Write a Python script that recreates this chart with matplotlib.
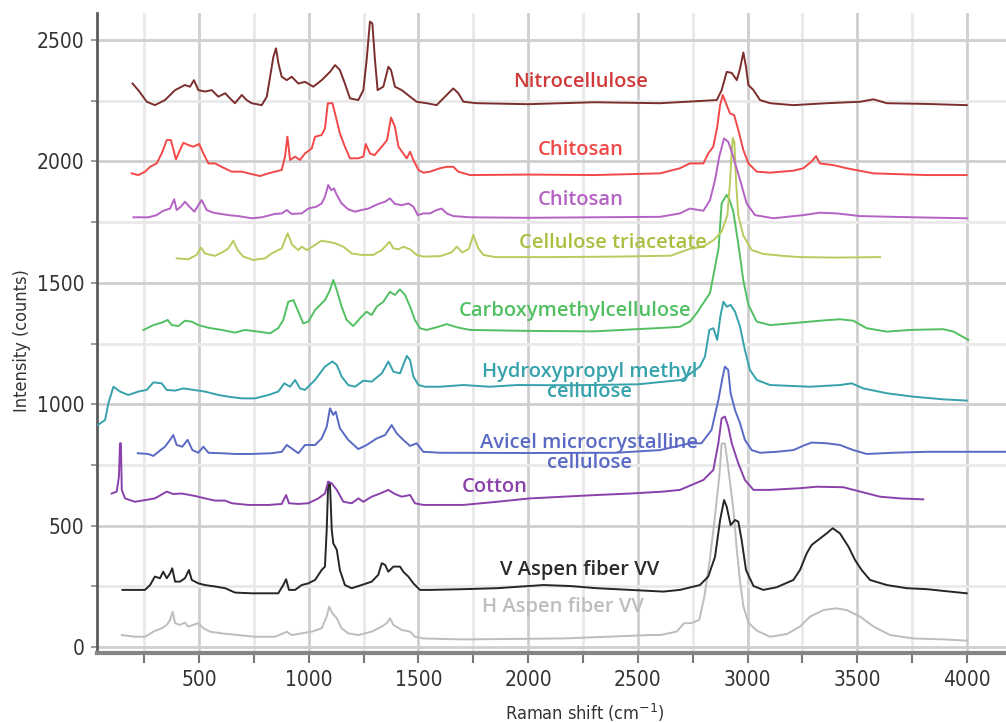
import numpy as np
import matplotlib
matplotlib.use("Agg")
import matplotlib.pyplot as plt
from matplotlib.ticker import MultipleLocator

# -----------------------
# Data (Raman shift cm-1, intensity counts)
# -----------------------
nitro = [(197, 2321), (223, 2294), (262, 2246), (299, 2232), (345, 2253), (391, 2294), (436, 2315),
         (459, 2308), (477, 2335), (497, 2294), (527, 2288), (558, 2294), (588, 2267), (619, 2281),
         (649, 2253), (664, 2240), (695, 2274), (717, 2253), (740, 2240), (786, 2232), (809, 2267),
         (824, 2349), (839, 2431), (851, 2466), (862, 2404), (877, 2349), (900, 2335), (922, 2349),
         (953, 2321), (983, 2328), (1021, 2308), (1059, 2335), (1097, 2369), (1120, 2397), (1142, 2377),
         (1165, 2321), (1188, 2260), (1226, 2253), (1249, 2294), (1264, 2418), (1279, 2576), (1290, 2569),
         (1302, 2418), (1314, 2294), (1340, 2308), (1363, 2390), (1375, 2377), (1393, 2308), (1424, 2294),
         (1462, 2267), (1492, 2246), (1538, 2240), (1583, 2232), (1621, 2267), (1659, 2301), (1682, 2281),
         (1705, 2246), (1766, 2240), (2000, 2236), (2300, 2244), (2601, 2240), (2860, 2253), (2882, 2294),
         (2905, 2369), (2928, 2365), (2951, 2335), (2966, 2383), (2981, 2449), (2993, 2390), (3004, 2315),
         (3027, 2294), (3057, 2253), (3103, 2240), (3208, 2232), (3361, 2240), (3513, 2246), (3574, 2256),
         (3635, 2240), (3817, 2237), (3999, 2232)]

chitosan_red = [(193, 1951), (223, 1944), (254, 1958), (277, 1978), (307, 1992), (330, 2033), (353, 2088),
                (372, 2088), (395, 2008), (413, 2047), (429, 2077), (451, 2068), (474, 2061), (501, 2072),
                (520, 2033), (543, 1992), (573, 1992), (603, 1978), (649, 1958), (695, 1958), (740, 1948),
                (778, 1940), (816, 1951), (877, 1965), (892, 2020), (903, 2102), (915, 2006), (938, 2020),
                (960, 2006), (983, 2033), (1014, 2054), (1029, 2102), (1059, 2109), (1074, 2136), (1087, 2240),
                (1108, 2240), (1120, 2198), (1142, 2116), (1165, 2061), (1188, 2013), (1226, 2013), (1249, 2020),
                (1260, 2072), (1279, 2033), (1300, 2026), (1333, 2061), (1357, 2088), (1375, 2181), (1393, 2143),
                (1409, 2061), (1431, 2033), (1447, 2013), (1462, 2040), (1477, 2006), (1500, 1965), (1522, 1954),
                (1553, 1958), (1598, 1972), (1629, 1978), (1659, 1978), (1682, 1958), (1735, 1944), (2000, 1946),
                (2300, 1944), (2601, 1951), (2692, 1972), (2737, 1992), (2799, 1992), (2821, 2033), (2844, 2061),
                (2862, 2143), (2875, 2232), (2887, 2274), (2905, 2232), (2920, 2198), (2939, 2191), (2958, 2129),
                (2981, 2047), (3004, 1992), (3042, 1958), (3103, 1954), (3209, 1962), (3254, 1972), (3292, 2000),
                (3312, 2022), (3330, 1992), (3391, 1985), (3452, 1972), (3574, 1951), (3817, 1944), (3999, 1944)]

chitosan_violet = [(201, 1770), (269, 1770), (307, 1779), (337, 1797), (368, 1806), (387, 1844), (398, 1800),
                   (418, 1814), (436, 1834), (456, 1814), (479, 1793), (497, 1820), (512, 1841), (535, 1800),
                   (565, 1789), (634, 1779), (679, 1775), (740, 1766), (786, 1770), (846, 1784), (877, 1786),
                   (900, 1800), (922, 1784), (968, 1786), (998, 1806), (1036, 1814), (1059, 1827), (1074, 1855),
                   (1089, 1903), (1102, 1882), (1115, 1889), (1128, 1862), (1150, 1827), (1180, 1803), (1211, 1793),
                   (1241, 1800), (1272, 1806), (1317, 1825), (1348, 1834), (1370, 1848), (1393, 1825), (1424, 1820),
                   (1454, 1827), (1477, 1814), (1497, 1779), (1522, 1786), (1553, 1786), (1583, 1800), (1606, 1806),
                   (1629, 1786), (1659, 1775), (1735, 1770), (2000, 1768), (2300, 1770), (2601, 1772), (2692, 1786),
                   (2737, 1806), (2799, 1797), (2829, 1841), (2852, 1924), (2871, 2020), (2893, 2095), (2912, 2081),
                   (2928, 2040), (2948, 1978), (2966, 1924), (2996, 1827), (3034, 1779), (3118, 1766), (3254, 1779),
                   (3330, 1789), (3407, 1786), (3513, 1775), (3756, 1770), (3999, 1766)]

triacetate = [(398, 1601), (451, 1597), (489, 1615), (509, 1646), (527, 1621), (573, 1611), (611, 1628),
              (634, 1642), (656, 1673), (676, 1635), (702, 1608), (748, 1594), (801, 1601), (831, 1621),
              (877, 1642), (904, 1704), (925, 1656), (953, 1635), (968, 1649), (991, 1635), (1029, 1656),
              (1056, 1673), (1089, 1669), (1120, 1663), (1158, 1649), (1196, 1621), (1241, 1615), (1294, 1615),
              (1333, 1635), (1368, 1669), (1386, 1642), (1409, 1638), (1431, 1649), (1462, 1638), (1492, 1615),
              (1522, 1608), (1600, 1610), (1650, 1625), (1675, 1649), (1700, 1625), (1730, 1640), (1750, 1697),
              (1773, 1642), (1796, 1615), (1850, 1606), (2100, 1606), (2400, 1608), (2650, 1612), (2737, 1640),
              (2799, 1650), (2844, 1675), (2882, 1711), (2908, 1778), (2920, 1912), (2928, 2046), (2933, 2097),
              (2940, 2080), (2948, 1912), (2958, 1778), (2981, 1694), (3019, 1635), (3072, 1619), (3163, 1611),
              (3239, 1606), (3400, 1604), (3604, 1606)]

cmc = [(247, 1306), (292, 1326), (330, 1336), (357, 1347), (376, 1326), (406, 1322), (436, 1344), (467, 1340),
       (497, 1326), (543, 1315), (603, 1306), (664, 1295), (710, 1306), (770, 1299), (824, 1292), (861, 1313),
       (884, 1347), (907, 1422), (930, 1429), (953, 1381), (975, 1333), (998, 1340), (1029, 1388), (1074, 1429),
       (1097, 1470), (1112, 1512), (1128, 1470), (1150, 1402), (1173, 1347), (1203, 1322), (1241, 1361),
       (1264, 1381), (1287, 1367), (1310, 1402), (1340, 1422), (1370, 1463), (1393, 1450), (1416, 1473),
       (1439, 1450), (1462, 1402), (1484, 1347), (1507, 1313), (1538, 1306), (1583, 1317), (1629, 1330),
       (1675, 1317), (1735, 1306), (2000, 1302), (2300, 1300), (2601, 1314), (2692, 1319), (2737, 1340),
       (2769, 1376), (2829, 1458), (2852, 1566), (2868, 1643), (2882, 1828), (2905, 1862), (2917, 1845),
       (2935, 1794), (2958, 1660), (2981, 1509), (3004, 1409), (3042, 1340), (3103, 1326), (3209, 1334),
       (3330, 1344), (3421, 1350), (3482, 1344), (3543, 1313), (3635, 1299), (3741, 1306), (3893, 1309),
       (3939, 1299), (4006, 1265)]

hpmc = [(40, 915), (72, 935), (87, 1004), (110, 1072), (140, 1052), (178, 1038), (223, 1052), (262, 1059),
        (292, 1090), (330, 1086), (353, 1059), (391, 1056), (429, 1065), (474, 1059), (527, 1052), (588, 1038),
        (634, 1031), (695, 1024), (755, 1024), (816, 1038), (861, 1052), (889, 1086), (915, 1072), (938, 1100),
        (960, 1065), (983, 1059), (1029, 1100), (1074, 1155), (1108, 1176), (1128, 1162), (1150, 1114),
        (1180, 1079), (1211, 1072), (1249, 1097), (1287, 1093), (1333, 1127), (1363, 1176), (1386, 1134),
        (1416, 1127), (1447, 1199), (1462, 1182), (1477, 1114), (1500, 1079), (1530, 1072), (1598, 1072),
        (1705, 1079), (1826, 1072), (1948, 1079), (2200, 1078), (2500, 1082), (2700, 1100), (2783, 1155),
        (2806, 1196), (2826, 1306), (2844, 1313), (2862, 1265), (2876, 1361), (2890, 1422), (2905, 1402),
        (2923, 1409), (2943, 1381), (2966, 1319), (2988, 1223), (3011, 1141), (3042, 1100), (3103, 1079),
        (3285, 1072), (3421, 1079), (3475, 1086), (3528, 1065), (3635, 1045), (3756, 1031), (3893, 1020),
        (3999, 1015)]

avicel = [(221, 798), (269, 795), (292, 787), (315, 804), (345, 825), (368, 853), (383, 873), (398, 832),
          (424, 825), (448, 853), (470, 811), (497, 800), (520, 825), (543, 800), (603, 798), (664, 795),
          (740, 795), (831, 798), (877, 804), (900, 832), (922, 818), (953, 798), (983, 832), (1029, 832),
          (1059, 859), (1082, 907), (1097, 983), (1112, 956), (1123, 969), (1142, 901), (1180, 853),
          (1226, 815), (1264, 832), (1310, 859), (1348, 873), (1378, 914), (1401, 880), (1431, 853),
          (1462, 828), (1492, 839), (1522, 804), (1600, 800), (2000, 799), (2400, 800), (2601, 811),
          (2737, 839), (2790, 839), (2836, 894), (2867, 1017), (2887, 1114), (2897, 1155), (2912, 1141),
          (2923, 1045), (2943, 976), (2966, 921), (2988, 853), (3019, 811), (3057, 800), (3133, 804),
          (3209, 811), (3262, 832), (3292, 842), (3361, 839), (3421, 832), (3482, 811), (3543, 795),
          (3665, 800), (3817, 804), (3999, 804), (4180, 804)]

cotton = [(102, 632), (125, 640), (135, 702), (140, 839), (144, 839), (148, 647), (163, 612), (208, 598),
          (254, 605), (299, 612), (353, 640), (383, 630), (421, 632), (482, 622), (527, 612), (573, 603),
          (619, 603), (649, 592), (725, 585), (816, 585), (877, 589), (897, 626), (910, 592), (953, 589),
          (998, 592), (1044, 612), (1074, 632), (1089, 681), (1105, 674), (1128, 647), (1158, 598),
          (1196, 592), (1226, 612), (1249, 598), (1287, 619), (1325, 632), (1363, 647), (1393, 630),
          (1424, 619), (1462, 626), (1484, 592), (1522, 585), (1705, 585), (1857, 598), (2009, 612),
          (2161, 619), (2313, 626), (2465, 632), (2616, 640), (2692, 647), (2799, 688), (2844, 729),
          (2867, 839), (2882, 942), (2897, 949), (2912, 908), (2928, 839), (2958, 756), (2988, 688),
          (3027, 647), (3103, 647), (3239, 654), (3315, 660), (3437, 658), (3513, 640), (3604, 619),
          (3695, 612), (3801, 608)]

aspen_v = [(151, 235), (193, 235), (254, 235), (277, 255), (299, 290), (322, 283), (337, 310), (353, 283),
           (368, 303), (378, 324), (391, 269), (413, 269), (436, 283), (454, 317), (467, 276), (497, 262),
           (527, 255), (573, 249), (619, 242), (664, 224), (740, 221), (816, 221), (861, 221), (884, 255),
           (897, 279), (910, 235), (938, 235), (968, 255), (998, 262), (1029, 276), (1059, 317), (1074, 331),
           (1082, 482), (1089, 680), (1097, 672), (1105, 482), (1112, 427), (1128, 400), (1142, 317),
           (1165, 255), (1196, 242), (1241, 255), (1287, 269), (1317, 297), (1333, 345), (1348, 338),
           (1363, 310), (1386, 331), (1416, 331), (1431, 310), (1454, 290), (1477, 262), (1507, 235),
           (1553, 235), (1705, 238), (1857, 242), (2069, 255), (2191, 251), (2313, 242), (2465, 235),
           (2616, 228), (2692, 235), (2783, 255), (2821, 290), (2852, 372), (2875, 523), (2893, 605),
           (2905, 578), (2923, 502), (2943, 523), (2958, 516), (2973, 441), (2993, 317), (3027, 251),
           (3072, 235), (3133, 246), (3209, 276), (3239, 317), (3270, 386), (3292, 420), (3322, 441),
           (3361, 468), (3388, 489), (3421, 468), (3460, 413), (3490, 358), (3520, 317), (3558, 276),
           (3635, 255), (3726, 242), (3817, 238), (3923, 228), (3999, 221)]

aspen_h = [(148, 49), (208, 42), (254, 42), (292, 63), (330, 77), (353, 91), (368, 111), (380, 145),
           (391, 98), (413, 91), (436, 100), (451, 84), (474, 91), (497, 98), (520, 77), (550, 63), (603, 56),
           (679, 49), (755, 42), (846, 42), (884, 56), (900, 63), (922, 49), (968, 56), (1014, 63), (1059, 77),
           (1082, 125), (1093, 166), (1108, 139), (1128, 118), (1150, 77), (1180, 56), (1226, 49), (1287, 63),
           (1333, 84), (1356, 98), (1370, 118), (1386, 91), (1424, 70), (1462, 63), (1484, 42), (1522, 35),
           (1705, 31), (2161, 35), (2556, 49), (2601, 49), (2677, 63), (2711, 98), (2742, 98), (2780, 111),
           (2803, 207), (2826, 345), (2848, 510), (2871, 700), (2882, 838), (2897, 838), (2912, 738),
           (2935, 570), (2951, 402), (2966, 268), (2981, 168), (3004, 100), (3042, 67), (3103, 42), (3179, 53),
           (3239, 84), (3285, 125), (3346, 152), (3407, 159), (3452, 152), (3513, 125), (3574, 84), (3650, 49),
           (3756, 35), (3893, 31), (3999, 26)]

# (trace, colour, label lines, label x, label y)
series = [
    (aspen_h, "#bdbdbd", ["H Aspen fiber VV"], 2160, 165),
    (aspen_v, "#262626", ["V Aspen fiber VV"], 2237, 317),
    (cotton, "#8a42aa", ["Cotton"], 1849, 659),
    (avicel, "#5a6ac4", ["Avicel microcrystalline", "cellulose"], 2279, 800),
    (hpmc, "#36a2ac", ["Hydroxypropyl methyl", "cellulose"], 2279, 1093),
    (cmc, "#52c062", ["Carboxymethylcellulose"], 2214, 1384),
    (triacetate, "#b9cb5e", ["Cellulose triacetate"], 2387, 1664),
    (chitosan_violet, "#b462c4", ["Chitosan"], 2241, 1841),
    (chitosan_red, "#f24848", ["Chitosan"], 2241, 2047),
    (nitro, "#7c2e2e", ["Nitrocellulose"], 2237, 2327),
]
label_colors = {"Nitrocellulose": "#d03a3a", "V Aspen fiber VV": "#2a2a2a",
                "Cellulose triacetate": "#a8c040"}

LABEL_FONT = ["Open Sans", "DejaVu Sans"]
tick_font = dict(family="DejaVu Sans", stretch="condensed")

# -----------------------
# Figure
# -----------------------
fig = plt.figure(figsize=(10.06, 7.23), dpi=100)
ax = fig.add_axes([0.0964, 0.0968, 0.9036, 0.885])

for pts, color, lines, lx, ly in series:
    arr = np.array(pts, dtype=float)
    ax.plot(arr[:, 0], arr[:, 1], color=color, linewidth=1.4, zorder=3)
    tcolor = label_colors.get(lines[0], color)
    ax.text(lx, ly, "\n".join(lines), color=tcolor, ha="center", va="center",
            fontsize=14.5, family=LABEL_FONT, fontweight="semibold", linespacing=1.0, zorder=4)

ax.set_xlim(35, 4178)
ax.set_ylim(-25, 2611)

ax.xaxis.set_major_locator(MultipleLocator(500))
ax.xaxis.set_minor_locator(MultipleLocator(250))
ax.yaxis.set_major_locator(MultipleLocator(500))
ax.yaxis.set_minor_locator(MultipleLocator(250))

ax.grid(True, which="major", color="#cfcfcf", linewidth=2)
ax.grid(True, which="minor", color="#e9e9e9", linewidth=2)
ax.set_axisbelow(True)

for side in ["top", "right"]:
    ax.spines[side].set_visible(False)
ax.spines["left"].set_color("#5c5c5c")
ax.spines["left"].set_linewidth(2)
ax.spines["bottom"].set_color("#858585")
ax.spines["bottom"].set_linewidth(3)

ax.tick_params(axis="x", which="both", direction="out", length=7, width=1.5, color="#777777",
               labelsize=15, labelcolor="#333333", pad=5)
ax.tick_params(axis="y", which="both", direction="out", length=4, width=1.2, color="#888888",
               labelsize=15, labelcolor="#333333", pad=5)
for lab in ax.get_xticklabels() + ax.get_yticklabels():
    lab.set_fontfamily(tick_font["family"])
    lab.set_fontstretch(tick_font["stretch"])

fig.text(585 / 1006, 1 - 713 / 723, "Raman shift (cm$^{-1}$)", ha="center", va="center",
         fontsize=13, color="#333333", **tick_font)
fig.text(22 / 1006, 1 - 341 / 723, "Intensity (counts)", ha="center", va="center", rotation=90,
         fontsize=13, color="#333333", **tick_font)

fig.savefig("out.png", dpi=100)
